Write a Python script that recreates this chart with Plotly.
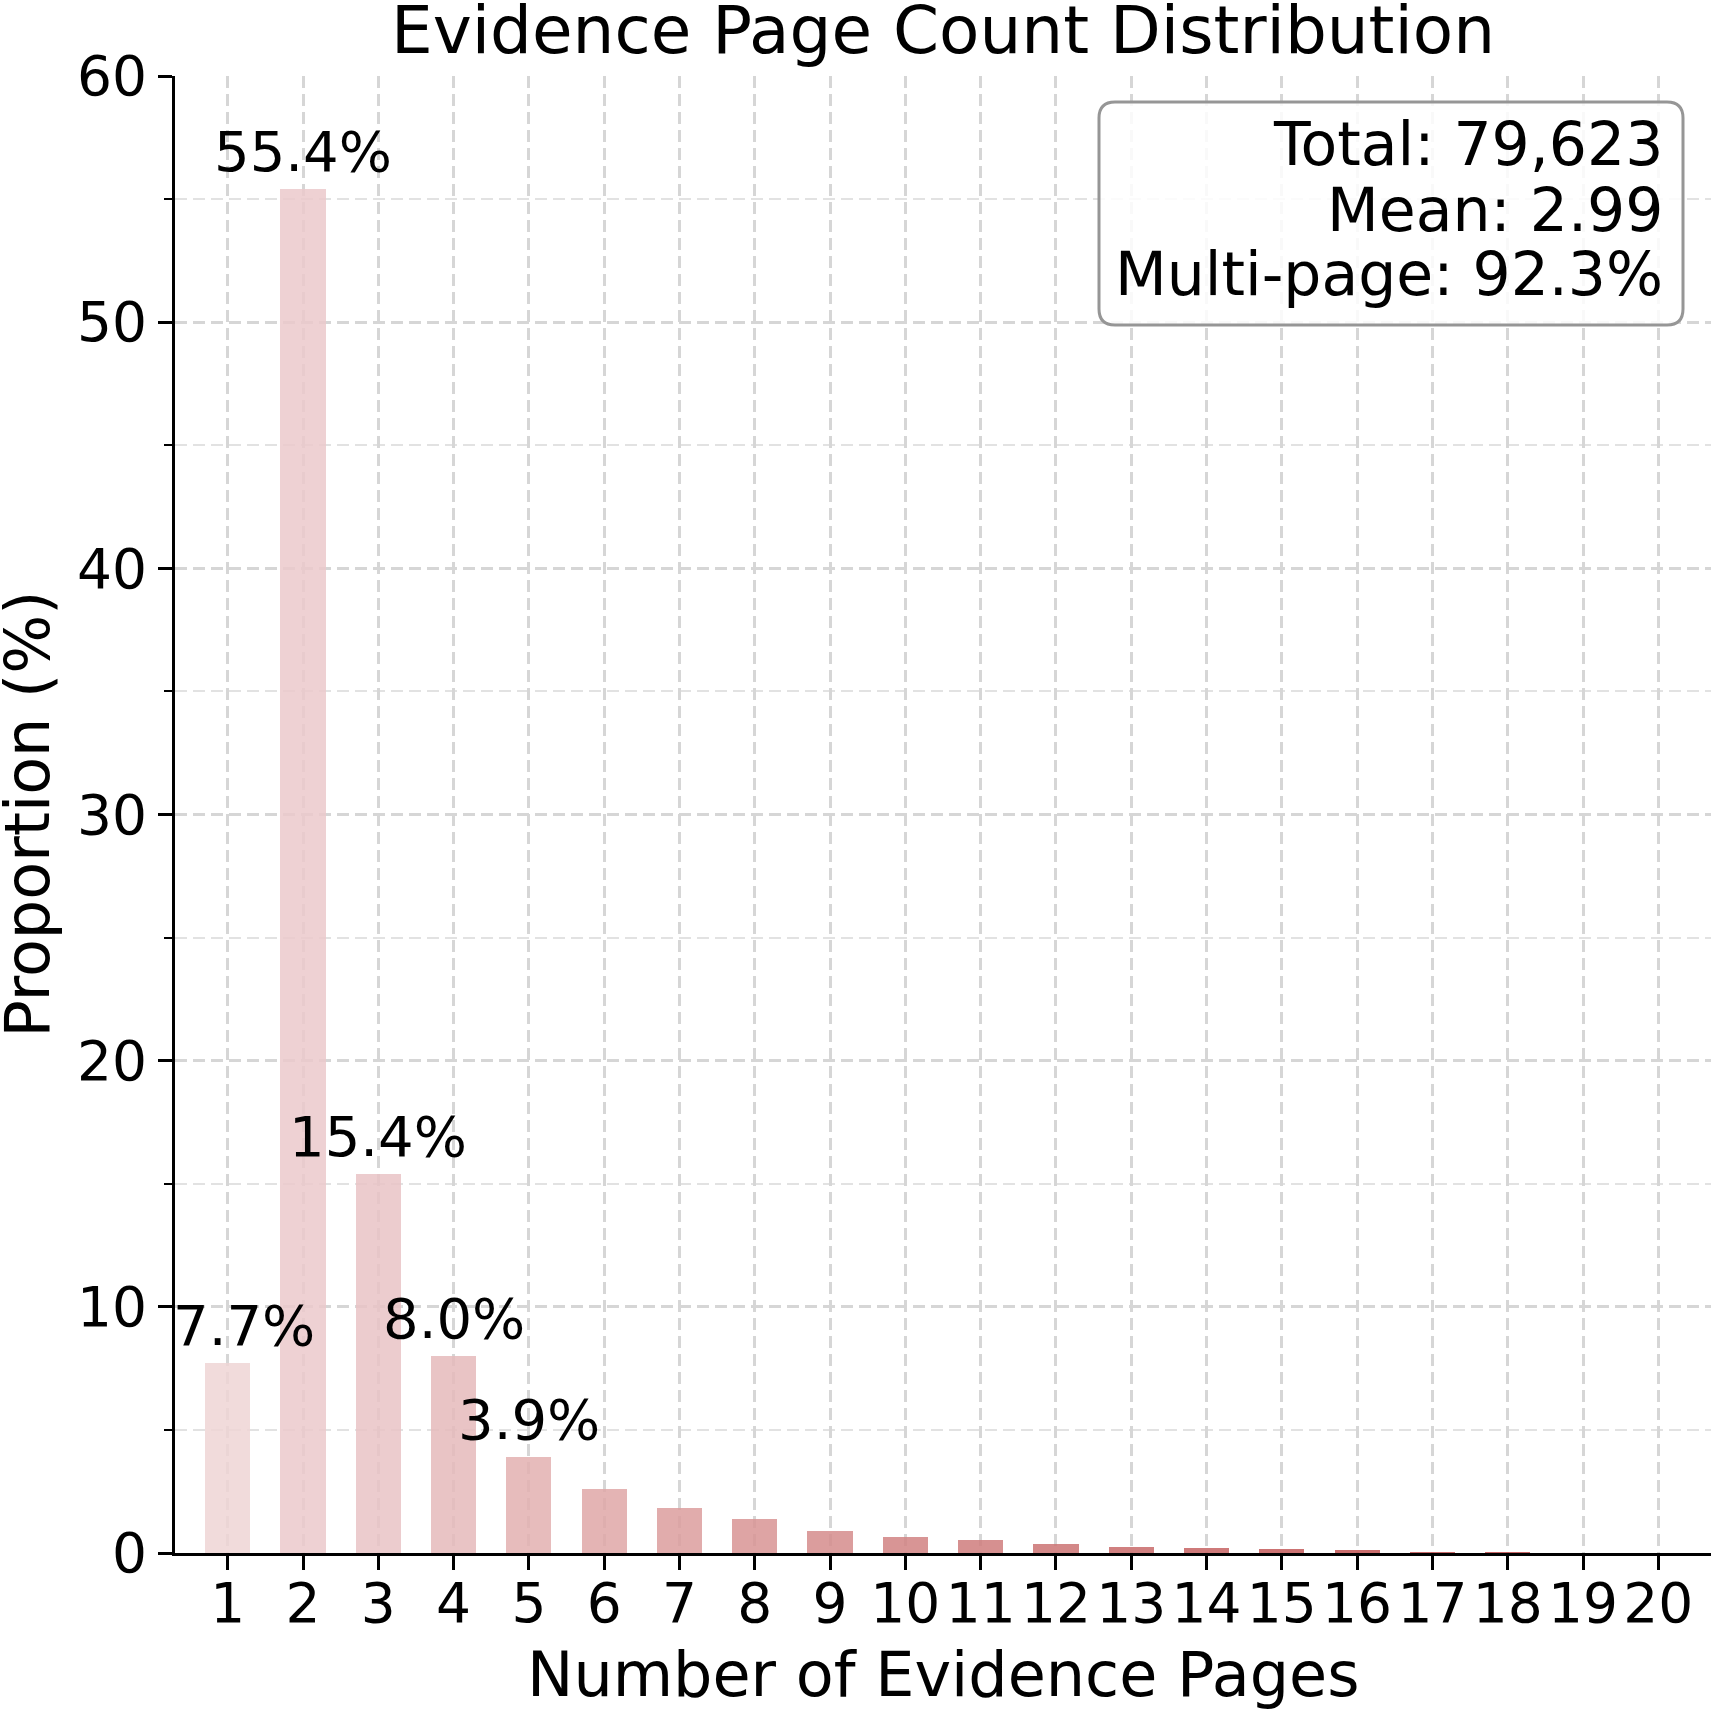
import plotly.graph_objects as go

# ---- data ----
pages = list(range(1, 21))
proportion = [7.7, 55.4, 15.4, 8.0, 3.9, 2.62, 1.83, 1.40, 0.89, 0.65,
              0.54, 0.35, 0.24, 0.20, 0.16, 0.11, 0.06, 0.03, 0.01, 0.01]
bar_labels = ["7.7%", "55.4%", "15.4%", "8.0%", "3.9%"]
stats_lines = ["Total: 79,623", "Mean: 2.99", "Multi-page: 92.3%"]
x_tick_labels = [str(p) for p in pages]
y_tick_vals = [0, 10, 20, 30, 40, 50, 60]

# ---- style ----
W, H = 1711, 1712
ML, MR, MT, MB = 175, 0, 76, 159
PW, PH = W - ML - MR, H - MT - MB
FONT = "DejaVu Sans"

# apparent (on-white) colours of each bar; bars are drawn semi-transparent
shown_colors = [
    (241, 219, 219), (238, 209, 211), (236, 204, 206), (233, 196, 197),
    (231, 188, 188), (228, 180, 180), (225, 172, 172), (222, 164, 164),
    (219, 157, 157), (216, 150, 150), (214, 144, 144), (211, 136, 136),
    (208, 128, 128), (206, 122, 122), (204, 116, 116), (202, 110, 110),
    (200, 106, 106), (198, 100, 100), (196, 96, 96), (194, 92, 92),
]
ALPHA = 0.85
bar_colors = ["rgba(%d,%d,%d,%.2f)" % tuple(
    [max(0, min(255, round((c - (1 - ALPHA) * 255) / ALPHA))) for c in rgb] + [ALPHA])
    for rgb in shown_colors]
label_xshift = [16, 0, 0, 0, 0]

fig = go.Figure()
fig.add_trace(go.Bar(
    x=pages, y=proportion, width=0.6,
    marker=dict(color=bar_colors, line=dict(width=0)),
    hoverinfo="skip", showlegend=False,
))

annotations = []
for i, lab in enumerate(bar_labels):
    annotations.append(dict(
        x=pages[i], y=proportion[i], xref="x", yref="y", text=lab,
        showarrow=False, xanchor="center", yanchor="bottom", yshift=3,
        xshift=label_xshift[i], font=dict(family=FONT, size=56, color="black"),
    ))

def px_to_paper_x(px):
    return (px - ML) / PW

def px_to_paper_y(py):
    return (H - MB - py) / PH

# stats box text lines
line_centers_px = [144, 210, 274]
for txt, cy in zip(stats_lines, line_centers_px):
    annotations.append(dict(
        x=px_to_paper_x(1665), y=px_to_paper_y(cy), xref="paper", yref="paper",
        text=txt, showarrow=False, xanchor="right", yanchor="middle",
        font=dict(family=FONT, size=60, color="black"),
    ))

# axis titles
annotations.append(dict(
    x=0.5, y=px_to_paper_y(1674), xref="paper", yref="paper",
    text="Number of Evidence Pages", showarrow=False,
    xanchor="center", yanchor="middle",
    font=dict(family=FONT, size=62, color="black"),
))
annotations.append(dict(
    x=px_to_paper_x(27), y=0.5, xref="paper", yref="paper",
    text="Proportion (%)", showarrow=False, textangle=-90,
    xanchor="center", yanchor="middle",
    font=dict(family=FONT, size=62, color="black"),
))

# rounded stats box
bx0, bx1 = px_to_paper_x(1099), px_to_paper_x(1683)
by0, by1 = px_to_paper_y(325), px_to_paper_y(102)
rx, ry = 16 / PW, 16 / PH
path = (f"M {bx0+rx},{by1} L {bx1-rx},{by1} Q {bx1},{by1} {bx1},{by1-ry} "
        f"L {bx1},{by0+ry} Q {bx1},{by0} {bx1-rx},{by0} "
        f"L {bx0+rx},{by0} Q {bx0},{by0} {bx0},{by0+ry} "
        f"L {bx0},{by1-ry} Q {bx0},{by1} {bx0+rx},{by1} Z")

grid_color = "#d6d6d6"
GRID_DASH = "12px,6px"
TICK_SIZE = 55
fig.update_layout(
    width=W, height=H,
    margin=dict(l=ML, r=MR, t=MT, b=MB, autoexpand=False),
    paper_bgcolor="white", plot_bgcolor="white",
    font=dict(family=FONT, size=TICK_SIZE, color="black"),
    title=dict(text="Evidence Page Count Distribution", x=0.5, xref="paper",
               xanchor="center", y=1 - 30 / H, yref="container", yanchor="middle",
               font=dict(family=FONT, size=66, color="black")),
    bargap=0,
    annotations=annotations,
    shapes=[dict(type="path", path=path, xref="paper", yref="paper",
                 line=dict(color="rgba(150,150,150,1)", width=3),
                 fillcolor="rgba(255,255,255,0.85)", layer="above")],
    xaxis=dict(
        range=[0.3, 20.7], tickmode="array", tickvals=pages, ticktext=x_tick_labels,
        tickangle=0, ticks="outside", ticklen=14, tickwidth=2.5, tickcolor="black",
        ticklabelstandoff=-14,
        showline=True, linecolor="black", linewidth=3, mirror=False,
        showgrid=True, gridcolor=grid_color, gridwidth=2.5, griddash=GRID_DASH,
        zeroline=False, tickfont=dict(family=FONT, size=TICK_SIZE, color="black"),
    ),
    yaxis=dict(
        range=[0, 60], tickmode="array", tickvals=y_tick_vals,
        ticks="outside", ticklen=14, tickwidth=2.5, tickcolor="black",
        showline=True, linecolor="black", linewidth=3, mirror=False,
        showgrid=True, gridcolor=grid_color, gridwidth=2.5, griddash=GRID_DASH,
        zeroline=False, tickfont=dict(family=FONT, size=TICK_SIZE, color="black"),
        minor=dict(dtick=5, tick0=0, ticks="outside", ticklen=8, tickwidth=2,
                   tickcolor="black", showgrid=True, gridcolor="#e2e2e2",
                   gridwidth=2, griddash=GRID_DASH),
    ),
)

fig.write_html("out.html")
